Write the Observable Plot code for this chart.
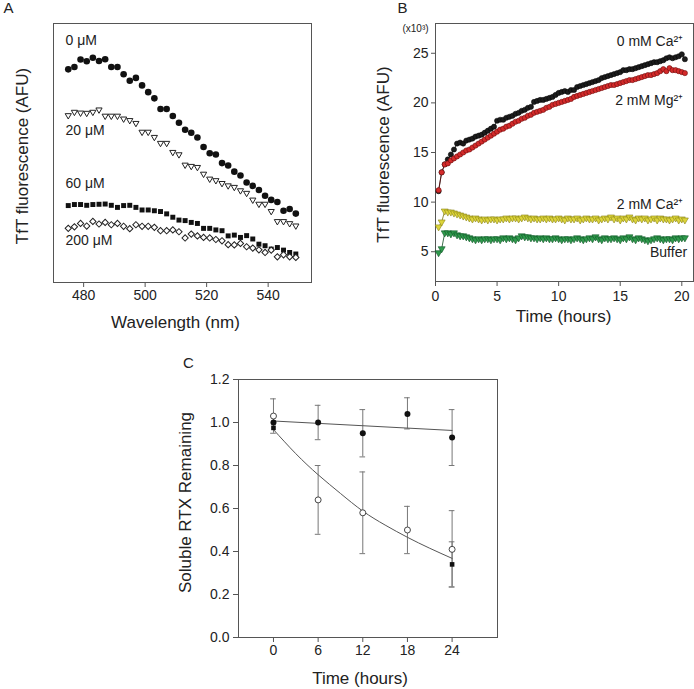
<!DOCTYPE html>
<html><head><meta charset="utf-8">
<script src="https://cdn.jsdelivr.net/npm/d3@7"></script>
<script src="https://cdn.jsdelivr.net/npm/@observablehq/plot@0.6"></script>
<style>
body{margin:0;background:#fff;}
#fig{position:relative;width:694px;height:689px;overflow:hidden;background:#fff;}
</style></head><body><div id="fig"></div>
<script>
// ---------- Panel A data ----------
const aWavelength = [475,477,479,481,483,485,487,489,491,493,495,497,499,501,503,505,507,509,511,513,515,517,519,521,523,525,527,529,531,533,535,537,539,541,543,545,547,549];
const a0uM   = [82.3,83.2,86.1,85.4,86.8,85.5,86.2,83.2,83.2,80.4,77.9,79.0,76.1,73.5,71.1,67.0,67.0,64.3,61.7,59.0,57.8,56.0,52.3,49.9,49.4,46.1,45.2,42.8,41.3,38.6,37.3,35.7,33.5,31.9,31.1,27.7,28.4,26.6];
const a20uM  = [64.5,65.8,65.5,65.4,65.8,66.7,64.3,64.3,64.3,63.2,62.6,61.5,58.1,58.1,56.1,53.8,53.8,50.3,49.4,45.4,44.9,44.5,41.9,40.0,39.4,38.3,37.4,36.8,35.5,34.5,31.9,30.3,30.3,27.5,23.6,23.6,22.8,21.9];
const a60uM  = [29.7,30.1,30.1,29.8,30.1,30.2,30.3,29.8,29.0,29.7,29.8,29.0,28.0,28.0,27.7,27.4,26.5,25.2,24.1,23.9,23.2,22.8,20.9,20.9,20.3,20.0,18.0,18.3,17.4,18.1,16.8,14.8,14.2,12.9,13.5,12.5,11.6,11.0];
const a200uM = [20.9,21.5,22.8,21.8,23.6,22.6,23.2,22.3,22.8,21.7,20.8,22.3,21.7,21.7,21.3,20.0,20.0,20.3,19.6,17.2,18.7,18.0,17.4,17.2,16.6,16.1,14.6,14.5,15.1,13.8,13.3,12.6,11.6,12.5,9.9,10.7,9.9,9.7];
const aTicks = [480,500,520,540];
const aLabels = ["0 μM","20 μM","60 μM","200 μM"];
const aLabelY = [93.5,58.5,38.1,16.1];

// ---------- Panel B data ----------
const bTime = [0.25,0.5,0.75,1,1.25,1.5,1.75,2,2.25,2.5,2.75,3,3.25,3.5,3.75,4,4.25,4.5,4.75,5,5.25,5.5,5.75,6,6.25,6.5,6.75,7,7.25,7.5,7.75,8,8.25,8.5,8.75,9,9.25,9.5,9.75,10,10.25,10.5,10.75,11,11.25,11.5,11.75,12,12.25,12.5,12.75,13,13.25,13.5,13.75,14,14.25,14.5,14.75,15,15.25,15.5,15.75,16,16.25,16.5,16.75,17,17.25,17.5,17.75,18,18.25,18.5,18.75,19,19.25,19.5,19.75,20,20.25];
const bCa0 = [11.1,13.0,13.8,14.3, 14.8,15.3,15.9,16.0, 15.9,16.2,16.3,16.4, 16.6,16.7,16.8,17.0, 17.2,17.4,17.6,18.2, 18.3,18.3,18.5,18.6, 18.7,18.9,19.0,19.2, 19.3,19.5,19.6,20.1, 20.2,20.3,20.3,20.4, 20.5,20.6,20.8,21.0, 21.1,21.2,21.1,21.3, 21.3,21.6,21.7,21.8, 21.9,22.0,22.1,22.2, 22.3,22.5,22.6,22.7, 22.8,22.9,23.0,23.1, 23.3,23.3,23.4,23.4, 23.5,23.6,23.7,23.8, 23.9,24.0,24.1,24.1, 24.2,24.3,24.5,24.6, 24.5,24.6,24.7,24.9, 24.4];
const bMg2 = [11.2,13.0,13.8,13.9, 14.2,14.4,14.6,14.8, 15.0,15.2,15.3,15.5, 15.7,15.9,16.1,16.3, 16.5,16.7,16.9,17.1, 17.3,17.4,17.6,17.7, 17.9,18.1,18.2,18.4, 18.5,18.7,18.8,19.0, 19.1,19.2,19.3,19.5, 19.6,19.8,19.9,20.0, 20.1,20.2,20.3,20.4, 20.6,20.7,20.8,20.9, 21.0,21.1,21.2,21.3, 21.4,21.5,21.6,21.7, 21.8,21.8,21.9,22.0, 22.1,22.2,22.3,22.3, 22.4,22.5,22.6,22.7, 22.8,22.8,22.9,23.0, 23.2,23.4,23.2,23.5, 23.3,23.3,23.2,23.1, 23.0];
const bCa2 = [7.5,8.0,9.1,9.0, 9.0,8.9,8.8,8.7, 8.6,8.5,8.4,8.3, 8.4,8.3,8.2,8.3, 8.2,8.3,8.3,8.2, 8.3,8.3,8.4,8.3, 8.4,8.4,8.3,8.4, 8.5,8.4,8.3,8.4, 8.3,8.3,8.4,8.3, 8.4,8.3,8.3,8.4, 8.3,8.2,8.4,8.3, 8.3,8.4,8.2,8.3, 8.4,8.3,8.3,8.4, 8.2,8.3,8.4,8.3, 8.5,8.3,8.4,8.2, 8.4,8.3,8.5,8.3, 8.2,8.4,8.3,8.4, 8.2,8.3,8.4,8.2, 8.4,8.3,8.3,8.2, 8.3,8.4,8.2,8.3, 8.2];
const bBuffer = [4.9,5.3,6.9,6.9, 6.8,6.9,6.7,6.6, 6.6,6.5,6.4,6.3, 6.2,6.3,6.2,6.3, 6.3,6.2,6.3,6.3, 6.2,6.4,6.3,6.4, 6.3,6.2,6.4,6.6, 6.5,6.5,6.4,6.4, 6.3,6.4,6.3,6.4, 6.3,6.3,6.4,6.3, 6.2,6.3,6.3,6.2, 6.3,6.4,6.3,6.2, 6.3,6.4,6.3,6.5, 6.3,6.2,6.4,6.3, 6.3,6.4,6.3,6.2, 6.4,6.3,6.5,6.3, 6.2,6.4,6.3,6.2, 6.1,6.2,6.3,6.4, 6.3,6.2,6.3,6.3, 6.2,6.4,6.3,6.4, 6.4];
const bXTicks = [0,5,10,15,20];
const bYTicks = [5,10,15,20,25];
const bLabels = ["0 mM Ca²⁺","2 mM Mg²⁺","2 mM Ca²⁺","Buffer"];
const bLabelX = [20.11,20.11,20.11,20.43];
const bLabelY = [26.15,20.2,9.75,4.9];

// ---------- Panel C data ----------
const cTime = [0,6,12,18,24];
const cFilledMean = [1.00,1.00,0.95,1.04,0.93];
const cFilledLow  = [null,0.92,0.84,0.97,0.80];
const cFilledHigh = [null,1.08,1.06,1.115,1.06];
const cOpenMean = [1.03,0.64,0.58,0.50,0.41];
const cOpenLow  = [0.95,0.48,0.39,0.39,0.235];
const cOpenHigh = [1.11,0.80,0.77,0.61,0.59];
const cSquareTime = [0,24];
const cSquareMean = [0.975,0.34];
const cSquareLow  = [null,0.235];
const cSquareHigh = [null,0.445];
const cLinearFitTime = [0,24];
const cLinearFit = [1.007,0.963];
const cDecayFitTime = [0,3,6,9,12,15,18,21,24];
const cDecayFit = [0.967,0.855,0.757,0.67,0.588,0.523,0.466,0.415,0.368];
const cXTicks = [0,6,12,18,24];
const cYTicks = [0,0.2,0.4,0.6,0.8,1.0,1.2];

// ---------- helpers ----------
const FONT = '"Liberation Sans", Arial, Helvetica, sans-serif';
const INK = "#222";
const FRAME = "#555";
const zip = (xs, ys, kx, ky) => xs.map((x, i) => ({[kx]: x, [ky]: ys[i]}));
const baseStyle = {fontFamily: FONT, fontSize: "14px", color: INK, background: "transparent", overflow: "visible"};
const fig = document.getElementById("fig");
function place(svg, left, top) {
  svg.style.position = "absolute";
  svg.style.left = left + "px";
  svg.style.top = top + "px";
  fig.appendChild(svg);
}
// a free-standing title anchored to the frame
const title = (s, o) => Plot.text([s], {text: d => d, textAnchor: "middle", lineAnchor: "middle", fill: INK, ...o});

// ---------- Panel A ----------
const aSeries = [a0uM, a20uM, a60uM, a200uM].map(v => zip(aWavelength, v, "w", "v"));
const aLab = aLabels.map((t, i) => ({t, x: 474.1, y: aLabelY[i]}));
const plotA = Plot.plot({
  width: 347, height: 340,
  marginLeft: 53, marginRight: 36, marginTop: 23, marginBottom: 58,
  style: baseStyle,
  x: {domain: [470.2, 554.1]},
  y: {domain: [0, 100], axis: null},
  marks: [
    Plot.frame({stroke: FRAME}),
    Plot.axisX({ticks: aTicks, tickSize: 5, tickPadding: 3, fontSize: 14, label: null, stroke: FRAME}),
    Plot.dot(aSeries[0], {x: "w", y: "v", r: 3.3, fill: "#111", stroke: "none"}),
    Plot.dot(aSeries[1], {x: "w", y: "v", symbol: "triangle", rotate: 180, r: 2.3, fill: "white", stroke: "#222", strokeWidth: 1}),
    Plot.dot(aSeries[2], {x: "w", y: "v", symbol: "square", r: 2.8, fill: "#111", stroke: "none"}),
    Plot.dot(aSeries[3], {x: "w", y: "v", symbol: "square", rotate: 45, r: 2.5, fill: "white", stroke: "#222", strokeWidth: 1}),
    Plot.text(aLab, {x: "x", y: "y", text: "t", textAnchor: "start", fontSize: 14, fill: INK}),
    title("TfT fluorescence (AFU)", {frameAnchor: "left", rotate: -90, dx: -31, dy: 3, fontSize: 17}),
    title("Wavelength (nm)", {frameAnchor: "bottom", dx: -7, dy: 40, fontSize: 17}),
    title("A", {frameAnchor: "top-left", dx: -45, dy: -15, fontSize: 15})
  ]
});
place(plotA, 0, 0);

// ---------- Panel B ----------
const bBlack = zip(bTime, bCa0, "t", "v");
const bRed = zip(bTime, bMg2, "t", "v");
const bYellow = zip(bTime, bCa2, "t", "v");
const bGreen = zip(bTime, bBuffer, "t", "v");
const bLab = bLabels.map((t, i) => ({t, x: bLabelX[i], y: bLabelY[i]}));
const plotB = Plot.plot({
  width: 347, height: 340,
  marginLeft: 88, marginRight: 1, marginTop: 23, marginBottom: 59,
  style: baseStyle,
  x: {domain: [0, 20.95]},
  y: {domain: [2, 28]},
  marks: [
    Plot.frame({stroke: FRAME}),
    Plot.axisX({ticks: bXTicks, tickSize: 5, tickPadding: 5, fontSize: 14, label: null, stroke: FRAME}),
    Plot.axisY({ticks: bYTicks, tickSize: 4, tickPadding: 3, fontSize: 14, label: null, stroke: FRAME}),
    Plot.line(bGreen, {x: "t", y: "v", stroke: "#0e4a20", strokeWidth: 0.8}),
    Plot.dot(bGreen, {x: "t", y: "v", symbol: "triangle", rotate: 180, r: 2.6, fill: "#2f9a4c", stroke: "#0e5425", strokeWidth: 0.6}),
    Plot.line(bYellow, {x: "t", y: "v", stroke: "#7a7410", strokeWidth: 0.8}),
    Plot.dot(bYellow, {x: "t", y: "v", symbol: "triangle", rotate: 180, r: 2.6, fill: "#dcd43a", stroke: "#8c8516", strokeWidth: 0.6}),
    Plot.line(bBlack, {x: "t", y: "v", stroke: "#111", strokeWidth: 0.8}),
    Plot.dot(bBlack, {x: "t", y: "v", r: 2.6, fill: "#1c1c1c", stroke: "#000", strokeWidth: 0.5}),
    Plot.line(bRed, {x: "t", y: "v", stroke: "#5a0a0a", strokeWidth: 0.8}),
    Plot.dot(bRed, {x: "t", y: "v", r: 2.6, fill: "#d42a2a", stroke: "#6b0e0e", strokeWidth: 0.6}),
    Plot.text(bLab, {x: "x", y: "y", text: "t", textAnchor: "end", fontSize: 14, fill: INK}),
    title("(x10³)", {frameAnchor: "top-left", dx: -20, dy: 5, fontSize: 10}),
    title("TfT fluorescence (AFU)", {frameAnchor: "left", rotate: -90, dx: -52, dy: 2, fontSize: 17}),
    title("Time (hours)", {frameAnchor: "bottom", dx: -1, dy: 35, fontSize: 17}),
    title("B", {frameAnchor: "top-left", dx: -33, dy: -15, fontSize: 15})
  ]
});
place(plotB, 347, 0);

// ---------- Panel C ----------
const cFilled = cTime.map((t, i) => ({t, m: cFilledMean[i], lo: cFilledLow[i], hi: cFilledHigh[i]}));
const cOpen = cTime.map((t, i) => ({t, m: cOpenMean[i], lo: cOpenLow[i], hi: cOpenHigh[i]}));
const cSquare = cSquareTime.map((t, i) => ({t, m: cSquareMean[i], lo: cSquareLow[i], hi: cSquareHigh[i]}));
const cBars = [...cFilled, ...cOpen, ...cSquare].filter(d => d.lo != null);
const capW = 0.38;
const cLin = zip(cLinearFitTime, cLinearFit, "t", "v");
const cDec = zip(cDecayFitTime, cDecayFit, "t", "v");
const ERR = "#777";
const plotC = Plot.plot({
  width: 400, height: 349,
  marginLeft: 88, marginRight: 53, marginTop: 39, marginBottom: 52,
  style: baseStyle,
  x: {domain: [-4.7, 30.1]},
  y: {domain: [0, 1.2]},
  marks: [
    Plot.frame({stroke: FRAME}),
    Plot.axisX({ticks: cXTicks, tickSize: 5, tickPadding: 3, fontSize: 14, label: null, stroke: FRAME}),
    Plot.axisY({ticks: cYTicks, tickSize: 5, tickPadding: 4, fontSize: 14, label: null, stroke: FRAME, tickFormat: d3.format(".1f")}),
    Plot.ruleX(cBars, {x: "t", y1: "lo", y2: "hi", stroke: ERR, strokeWidth: 1}),
    Plot.ruleY(cBars, {y: "lo", x1: d => d.t - capW, x2: d => d.t + capW, stroke: ERR, strokeWidth: 1}),
    Plot.ruleY(cBars, {y: "hi", x1: d => d.t - capW, x2: d => d.t + capW, stroke: ERR, strokeWidth: 1}),
    Plot.line(cLin, {x: "t", y: "v", stroke: "#555", strokeWidth: 1}),
    Plot.line(cDec, {x: "t", y: "v", stroke: "#555", strokeWidth: 1, curve: "natural"}),
    Plot.dot(cOpen, {x: "t", y: "m", r: 3, fill: "white", stroke: "#333", strokeWidth: 0.9}),
    Plot.dot(cFilled, {x: "t", y: "m", r: 3, fill: "#111", stroke: "none"}),
    Plot.dot(cSquare, {x: "t", y: "m", symbol: "square", r: 2.6, fill: "#111", stroke: "none"}),
    title("Soluble RTX Remaining", {frameAnchor: "left", rotate: -90, dx: -53, dy: -6, fontSize: 17}),
    title("Time (hours)", {frameAnchor: "bottom", dx: -8, dy: 41, fontSize: 17}),
    title("C", {frameAnchor: "top-left", dx: -50, dy: -16, fontSize: 15})
  ]
});
place(plotC, 150, 340);
</script></body></html>
